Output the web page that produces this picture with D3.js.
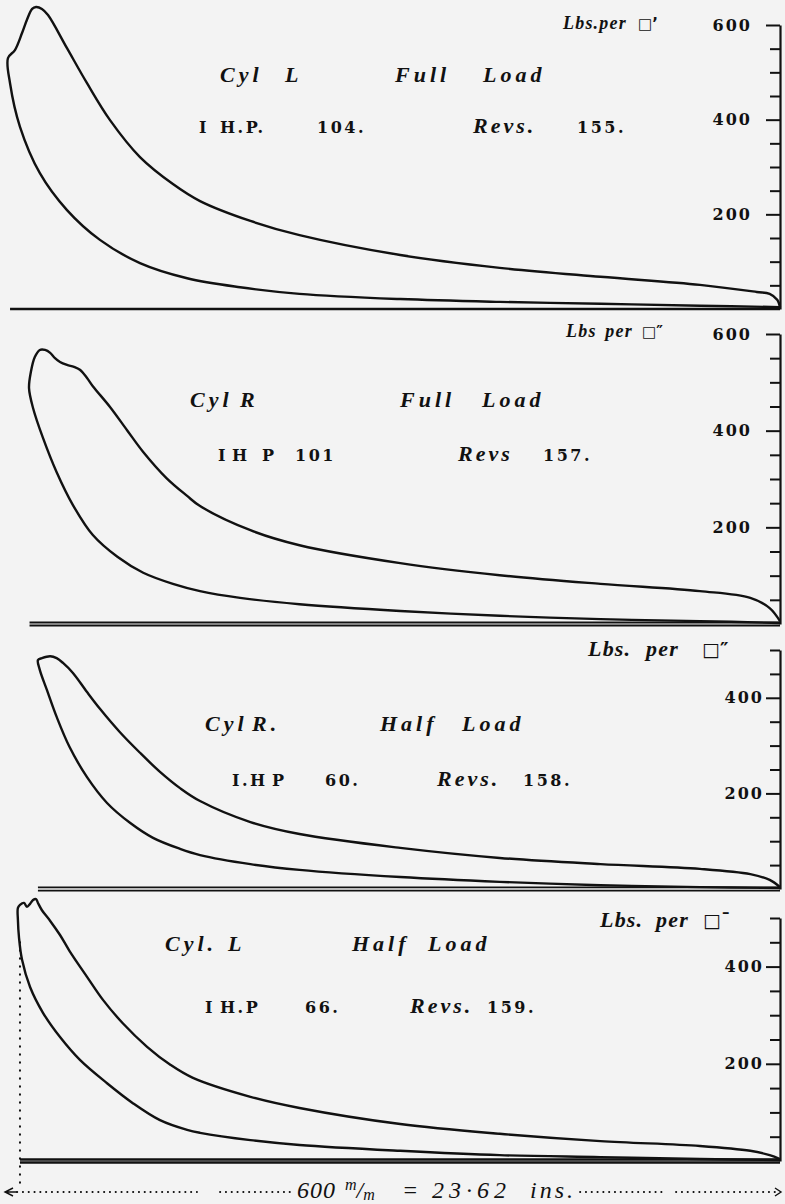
<!DOCTYPE html>
<html>
<head>
<meta charset="utf-8">
<script src="https://cdn.jsdelivr.net/npm/d3@7"></script>
<style>
  html, body { margin: 0; padding: 0; background: #f3f3f3; }
  svg { display: block; }
</style>
</head>
<body>
<svg id="chart" width="785" height="1204"></svg>
<script>
// Indicator diagrams: stroke position (mm) against cylinder pressure (lbs per sq. in.)

const cylinders = ["Cyl L", "Cyl R", "Cyl R.", "Cyl. L"];
const loads = ["Full Load", "Full Load", "Half Load", "Half Load"];
const ihpLabels = ["I H.P.", "I H P", "I.H P", "I H.P"];
const ihpValues = ["104.", "101", "60.", "66."];
const revLabels = ["Revs.", "Revs", "Revs.", "Revs."];
const revValues = ["155.", "157.", "158.", "159."];
const unitLabels = ["Lbs.per", "Lbs per", "Lbs. per", "Lbs. per"];
const unitMarks = ["\u25A1\u2019", "\u25A1\u2033", "\u25A1\u2033", "\u25A1\u02C9"];
const axisMax = [600, 600, 500, 500];
const labelledTicks = [[200, 400, 600], [200, 400, 600], [200, 400], [200, 400]];
const strokeLength = 600;   // mm
const strokeInches = "23\u00B762";

// Traced loops, [stroke mm, pressure psi]: compression from the right end, over the peak,
// then expansion back to release.
const loopCylLFull = [
  [600, 4], [538, 7], [461, 11], [383, 15], [306, 21], [228, 32], [182, 46], [141, 65],
  [104.5, 97], [73.5, 146], [48, 209], [27, 287], [11.6, 385], [3.9, 477], [2.3, 530],
  [7.7, 547], [13.2, 583], [17, 611], [21, 634], [24, 638], [28.6, 634], [33.3, 621],
  [48, 551], [63.5, 477], [81.3, 399], [104.5, 321], [130, 264], [151, 228], [190, 186],
  [228, 156], [306, 114], [383, 87], [461, 68], [538, 51], [582, 36], [592, 32], [598, 19], [600, 4]
];
const loopCylRFull = [
  [600, 2], [538, 6], [461, 10], [383, 17], [306, 27], [228, 41], [182, 54], [151, 68],
  [130, 83], [107, 106], [87, 139], [68, 184], [52.6, 246], [40, 314], [29.4, 385], [21.7, 447],
  [18.6, 488], [20, 521], [23, 552], [27, 567], [31, 567], [35, 561], [38.7, 550], [42.6, 542],
  [48, 536], [53.4, 532], [58, 526], [63.5, 509], [68, 492], [81.3, 449], [94.5, 401], [107, 356],
  [125, 302], [141, 265], [151, 244], [190, 194], [228, 163], [306, 126], [383, 101],
  [461, 83], [538, 68], [577, 54], [592, 33], [600, 6]
];
const loopCylRHalf = [
  [600, 2], [538, 4], [461, 8], [383, 15], [306, 25], [228, 40], [190, 52], [151, 71],
  [135.5, 84], [114.6, 107], [97, 138], [79, 180], [63.5, 234], [50, 297], [40, 360],
  [32.5, 416], [27, 458], [25.5, 479], [28.6, 483], [35, 487], [40, 483], [44.9, 473],
  [52.6, 452], [63.5, 412], [73.5, 377], [89, 328], [104.5, 285], [120, 245], [135.5, 211],
  [151, 184], [190, 140], [228, 115], [306, 86], [383, 65], [461, 52], [538, 42], [577, 31],
  [592, 19], [600, 4]
];
const loopCylLHalf = [
  [600, 2], [538, 4], [461, 8], [383, 12], [306, 21], [228, 33], [190, 43], [151, 58],
  [141, 64], [120, 84], [99, 119], [79, 160], [58, 208], [42.6, 255], [29.4, 305], [19.4, 358],
  [13.2, 414], [10.8, 461], [10, 496], [10, 521], [11.6, 527], [14.7, 531], [17, 523],
  [19.4, 529], [21.7, 537], [24, 539], [25.5, 531], [28.6, 516], [35, 494], [42.6, 465],
  [50, 432], [63.5, 379], [76, 331], [91, 284], [110, 235], [128, 198], [145.5, 171],
  [190, 132], [228, 109], [306, 76], [383, 56], [461, 41], [538, 31], [577, 21], [592, 12], [600, 4]
];
const loops = [loopCylLFull, loopCylRFull, loopCylRHalf, loopCylLHalf];
// where each atmospheric line begins (mm)
const atmStart = [3.9, 19, 25.5, 11.6];

// ---- layout ----
const W = 785, H = 1204;
const axisX = 780;
const panelLayout = [
  { zeroY: 309, topY: 25, pad: 15, atmGap: 0, atmWidth: 2.4,
    unit: [563, 29, 638], unitSize: 18, unitWord: 4, line1: 82, line2: 133,
    words1: [220, 285, 395, 483], words2: [199, 220, 317, 473, 577] },
  { zeroY: 624, topY: 334, pad: 15, atmGap: 3, atmWidth: 1.8,
    unit: [566, 337, 642], unitSize: 18, unitWord: 3, line1: 407, line2: 461,
    words1: [190, 240, 400, 482], words2: [218, 232, 262, 295, 458, 543] },
  { zeroY: 889, topY: 650, pad: 3, atmGap: 3.4, atmWidth: 1.8,
    unit: [588, 656, 702], unitSize: 22, unitWord: 8, line1: 731, line2: 786,
    words1: [205, 252, 380, 462], words2: [232, 272, 325, 437, 523] },
  { zeroY: 1161, topY: 918, pad: 3, atmGap: 3, atmWidth: 2.6,
    unit: [600, 927, 703], unitSize: 22, unitWord: 6, line1: 951, line2: 1013,
    words1: [165, 228, 352, 428], words2: [205, 220, 305, 410, 487] }
];

const scriptFont = "'Liberation Serif', serif";
const plainFont = "'DejaVu Serif', serif";
const ink = "#111";

const svg = d3.select("#chart");
svg.append("rect").attr("width", W).attr("height", H).attr("fill", "#f3f3f3");

const x = d3.scaleLinear().domain([0, strokeLength]).range([5, axisX]);

panelLayout.forEach((p, i) => {
  const y = d3.scaleLinear().domain([0, axisMax[i]]).range([p.zeroY, p.topY]);
  const g = svg.append("g").attr("class", "panel");

  // atmospheric line
  const offs = p.atmGap ? [-p.atmGap / 2, p.atmGap / 2] : [0];
  offs.forEach(o => {
    g.append("line")
      .attr("x1", x(atmStart[i])).attr("x2", x(strokeLength))
      .attr("y1", y(0) + o).attr("y2", y(0) + o)
      .attr("stroke", ink).attr("stroke-width", p.atmWidth);
  });

  // diagram loop
  const line = d3.line()
    .x(d => x(d[0])).y(d => y(d[1]))
    .curve(d3.curveCatmullRom.alpha(0.5));
  g.append("path")
    .datum(loops[i])
    .attr("d", line)
    .attr("fill", "none")
    .attr("stroke", ink)
    .attr("stroke-width", 2.4)
    .attr("stroke-linejoin", "round");

  // pressure scale on the right
  const ax = d3.axisLeft(y)
    .tickValues(d3.range(50, axisMax[i] + 1, 50))
    .tickSize(13)
    .tickSizeOuter(0)
    .tickPadding(p.pad)
    .tickFormat(d => labelledTicks[i].includes(d) ? d : "");
  const ag = g.append("g").attr("transform", `translate(${axisX},0)`).call(ax);
  ag.select(".domain").attr("stroke", ink).attr("stroke-width", 2.2);
  ag.selectAll(".tick line").attr("stroke", ink).attr("stroke-width", 2)
    .attr("x2", d => labelledTicks[i].includes(d) ? -14 : -10);
  ag.selectAll(".tick text")
    .attr("fill", ink)
    .attr("font-family", plainFont)
    .attr("font-weight", "bold")
    .attr("font-size", 16)
    .attr("letter-spacing", 2);

  // unit heading
  g.append("text")
    .attr("x", p.unit[0]).attr("y", p.unit[1])
    .attr("font-family", scriptFont).attr("font-style", "italic").attr("font-weight", "bold")
    .attr("font-size", p.unitSize).attr("letter-spacing", 1.2).attr("word-spacing", p.unitWord)
    .attr("fill", ink)
    .text(unitLabels[i]);
  g.append("text")
    .attr("x", p.unit[2]).attr("y", p.unit[1])
    .attr("font-family", "'DejaVu Sans', sans-serif").attr("font-weight", "bold")
    .attr("font-size", p.unitSize - 3).attr("fill", ink)
    .text(unitMarks[i]);

  // titles
  const words1 = (cylinders[i] + " " + loads[i]).split(" ");
  g.selectAll(".w1").data(words1).join("text")
    .attr("x", (d, k) => p.words1[k]).attr("y", p.line1)
    .attr("font-family", scriptFont).attr("font-style", "italic").attr("font-weight", "bold")
    .attr("font-size", 22).attr("letter-spacing", 4).attr("fill", ink)
    .text(d => d);

  const words2 = ihpLabels[i].split(" ").map(t => ({ t, script: false }))
    .concat([{ t: ihpValues[i], script: false }, { t: revLabels[i], script: true }, { t: revValues[i], script: false }]);
  g.selectAll(".w2").data(words2).join("text")
    .attr("x", (d, k) => p.words2[k]).attr("y", p.line2)
    .attr("font-family", d => d.script ? scriptFont : plainFont)
    .attr("font-style", d => d.script ? "italic" : "normal")
    .attr("font-weight", "bold")
    .attr("font-size", d => d.script ? 22 : 16)
    .attr("letter-spacing", d => d.script ? 3 : 2.5)
    .attr("fill", ink)
    .text(d => d.t);

  // stroke-start marker below the last diagram
  if (i === panelLayout.length - 1) {
    svg.append("line")
      .attr("x1", x(atmStart[i])).attr("x2", x(atmStart[i]))
      .attr("y1", y(450)).attr("y2", 1186)
      .attr("stroke", ink).attr("stroke-width", 2)
      .attr("stroke-linecap", "round")
      .attr("stroke-dasharray", "0.5 7.5");
  }
});

// stroke length scale along the bottom
const scaleY = 1192;
const label = svg.append("text")
  .attr("y", scaleY + 6)
  .attr("font-family", scriptFont).attr("font-style", "italic")
  .attr("font-size", 24).attr("fill", ink);
label.append("tspan").attr("x", 297).attr("letter-spacing", 1).text(strokeLength);
label.append("tspan").attr("x", 345).attr("dy", -8).attr("font-size", 16).text("m");
label.append("tspan").attr("dy", 8).text("/");
label.append("tspan").attr("dy", 2).attr("font-size", 16).text("m");
label.append("tspan").attr("x", 402).attr("dy", -2).text("=");
label.append("tspan").attr("x", 432).attr("letter-spacing", 5).text(strokeInches);
label.append("tspan").attr("x", 530).attr("letter-spacing", 3).text("ins.");

const bb = label.node().getBBox();
const dotted = (x1, x2) => svg.append("line")
  .attr("x1", x1).attr("x2", x2).attr("y1", scaleY).attr("y2", scaleY)
  .attr("stroke", ink).attr("stroke-width", 1.8).attr("stroke-linecap", "round")
  .attr("stroke-dasharray", "0.3 5.5");
dotted(x(0) + 12, 197);
dotted(220, bb.x - 5);
dotted(bb.x + bb.width + 4, 665);
dotted(676, x(strokeLength) - 4);

// arrowheads
svg.append("path")
  .attr("d", `M${x(0) + 8},${scaleY - 4} L${x(0)},${scaleY} L${x(0) + 8},${scaleY + 4} M${x(0)},${scaleY} H${x(0) + 12}`)
  .attr("fill", "none").attr("stroke", ink).attr("stroke-width", 1.4);
svg.append("path")
  .attr("d", `M${x(strokeLength) - 5},${scaleY - 4} L${x(strokeLength) + 1},${scaleY} L${x(strokeLength) - 5},${scaleY + 4}`)
  .attr("fill", "none").attr("stroke", ink).attr("stroke-width", 1.4);
</script>
</body>
</html>
